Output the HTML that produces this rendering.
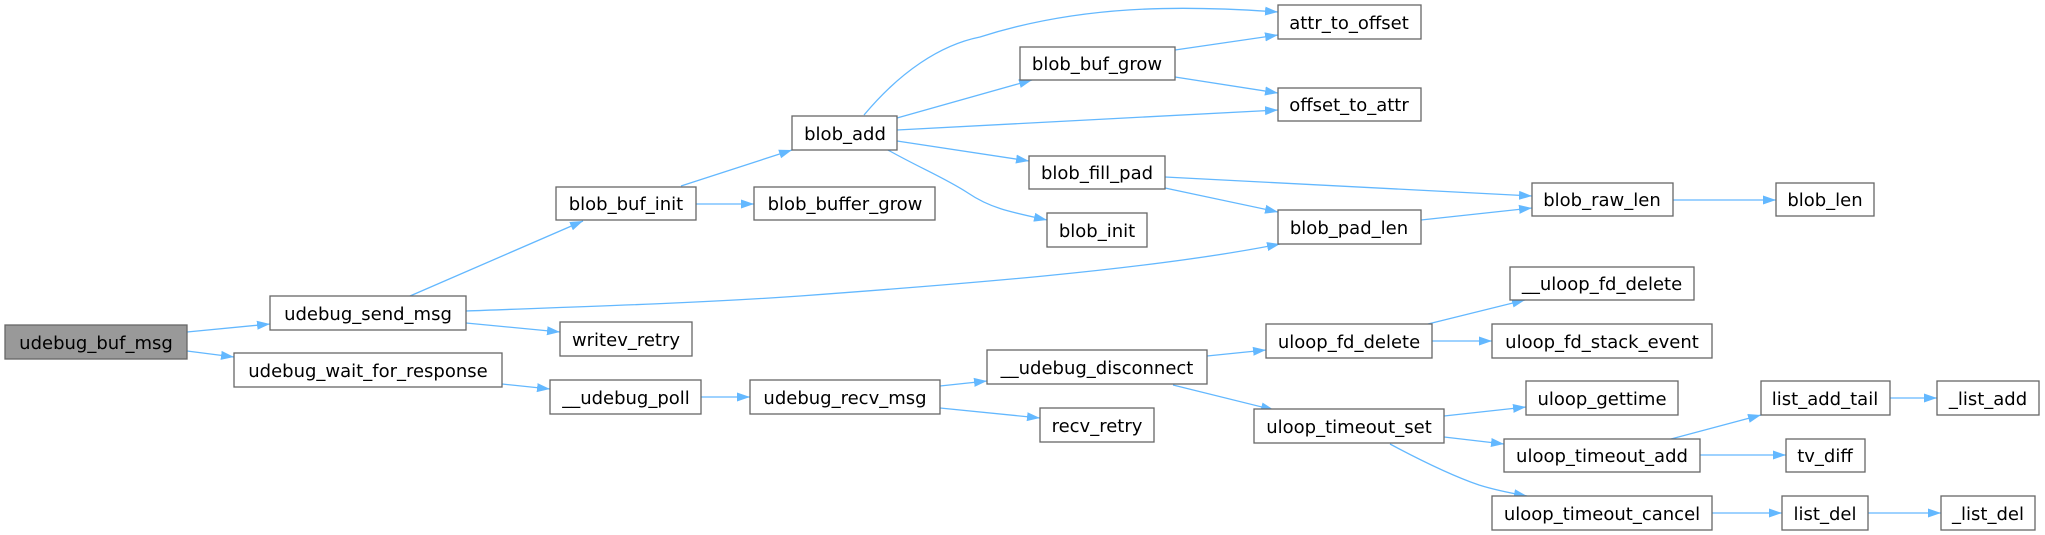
<!DOCTYPE html>
<html><head><meta charset="utf-8"><style>
html,body{margin:0;padding:0;background:#fff;}
svg{display:block;}
text{font-family:"DejaVu Sans","Liberation Sans",sans-serif;font-size:18px;fill:#000;}
.e{fill:none;stroke:#63b8ff;stroke-width:1.3;marker-end:url(#a);}
.n{fill:#fff;stroke:#666;stroke-width:1.3;}
</style></head><body>
<svg width="2045" height="535" viewBox="0 0 2045 535" xmlns="http://www.w3.org/2000/svg">
<defs><marker id="a" markerUnits="userSpaceOnUse" markerWidth="14" markerHeight="10" refX="13" refY="5" orient="auto"><path d="M0,0.5 L13,5 L0,9.5 Z" fill="#63b8ff"/></marker></defs>
<path class="e" d="M187,332 L270,324"/>
<path class="e" d="M187,351 L234,357"/>
<path class="e" d="M410,296 L583,221"/>
<path class="e" d="M466,311 C600,306 700,303 800,296 C950,285 1150,270 1280,244"/>
<path class="e" d="M466,323 L560,332"/>
<path class="e" d="M502,384 L550,389"/>
<path class="e" d="M681,186 L792,150"/>
<path class="e" d="M696,204 L754,204"/>
<path class="e" d="M864,115 C900,72 940,45 980,37 C1080,5 1180,5 1278,12"/>
<path class="e" d="M897,118 L1032,80"/>
<path class="e" d="M897,130 L1278,110"/>
<path class="e" d="M897,141 L1029,161"/>
<path class="e" d="M888,150 C920,168 945,178 968,193 C990,208 1010,212 1047,220"/>
<path class="e" d="M1175,50 L1278,35"/>
<path class="e" d="M1175,77 L1278,93"/>
<path class="e" d="M1165,177 L1532,196"/>
<path class="e" d="M1165,188 L1278,212"/>
<path class="e" d="M1421,220 L1532,208"/>
<path class="e" d="M1673,200 L1776,200"/>
<path class="e" d="M701,397 L750,397"/>
<path class="e" d="M940,386 L987,381"/>
<path class="e" d="M940,408 L1040,418"/>
<path class="e" d="M1207,356 L1266,350"/>
<path class="e" d="M1173,385 L1274,410"/>
<path class="e" d="M1428,324 L1525,300"/>
<path class="e" d="M1432,341 L1492,341"/>
<path class="e" d="M1444,416 L1526,407"/>
<path class="e" d="M1444,437 L1504,444"/>
<path class="e" d="M1390,444 C1420,460 1450,475 1479,485 C1495,490 1510,493 1527,496"/>
<path class="e" d="M1671,439 L1761,415"/>
<path class="e" d="M1700,455 L1786,455"/>
<path class="e" d="M1890,398 L1937,398"/>
<path class="e" d="M1712,513 L1782,513"/>
<path class="e" d="M1868,513 L1941,513"/>
<g>
<rect x="5" y="325" width="182" height="34" fill="#999" stroke="#666" stroke-width="1.3"/><text x="96" y="349" text-anchor="middle">udebug_buf_msg</text>
<rect class="n" x="270" y="296" width="196" height="34"/><text x="368" y="320" text-anchor="middle">udebug_send_msg</text>
<rect class="n" x="234" y="353" width="268" height="34"/><text x="368" y="377" text-anchor="middle">udebug_wait_for_response</text>
<rect class="n" x="556" y="187" width="140" height="33"/><text x="626" y="210" text-anchor="middle">blob_buf_init</text>
<rect class="n" x="560" y="322" width="132" height="34"/><text x="626" y="346" text-anchor="middle">writev_retry</text>
<rect class="n" x="550" y="380" width="151" height="34"/><text x="626" y="404" text-anchor="middle">__udebug_poll</text>
<rect class="n" x="792" y="116" width="105" height="34"/><text x="845" y="140" text-anchor="middle">blob_add</text>
<rect class="n" x="754" y="187" width="181" height="33"/><text x="845" y="210" text-anchor="middle">blob_buffer_grow</text>
<rect class="n" x="1020" y="47" width="155" height="33"/><text x="1097" y="70" text-anchor="middle">blob_buf_grow</text>
<rect class="n" x="1029" y="156" width="136" height="33"/><text x="1097" y="179" text-anchor="middle">blob_fill_pad</text>
<rect class="n" x="1047" y="213" width="100" height="34"/><text x="1097" y="237" text-anchor="middle">blob_init</text>
<rect class="n" x="1278" y="5" width="143" height="34"/><text x="1349" y="29" text-anchor="middle">attr_to_offset</text>
<rect class="n" x="1278" y="88" width="143" height="33"/><text x="1349" y="111" text-anchor="middle">offset_to_attr</text>
<rect class="n" x="1278" y="210" width="143" height="34"/><text x="1349" y="234" text-anchor="middle">blob_pad_len</text>
<rect class="n" x="1532" y="183" width="141" height="33"/><text x="1602" y="206" text-anchor="middle">blob_raw_len</text>
<rect class="n" x="1776" y="183" width="98" height="33"/><text x="1825" y="206" text-anchor="middle">blob_len</text>
<rect class="n" x="750" y="380" width="190" height="34"/><text x="845" y="404" text-anchor="middle">udebug_recv_msg</text>
<rect class="n" x="1040" y="408" width="114" height="34"/><text x="1097" y="432" text-anchor="middle">recv_retry</text>
<rect class="n" x="987" y="350" width="220" height="34"/><text x="1097" y="374" text-anchor="middle">__udebug_disconnect</text>
<rect class="n" x="1266" y="324" width="166" height="34"/><text x="1349" y="348" text-anchor="middle">uloop_fd_delete</text>
<rect class="n" x="1254" y="409" width="190" height="34"/><text x="1349" y="433" text-anchor="middle">uloop_timeout_set</text>
<rect class="n" x="1510" y="267" width="184" height="33"/><text x="1602" y="290" text-anchor="middle">__uloop_fd_delete</text>
<rect class="n" x="1492" y="324" width="220" height="34"/><text x="1602" y="348" text-anchor="middle">uloop_fd_stack_event</text>
<rect class="n" x="1526" y="381" width="152" height="34"/><text x="1602" y="405" text-anchor="middle">uloop_gettime</text>
<rect class="n" x="1504" y="439" width="196" height="33"/><text x="1602" y="462" text-anchor="middle">uloop_timeout_add</text>
<rect class="n" x="1492" y="496" width="220" height="34"/><text x="1602" y="520" text-anchor="middle">uloop_timeout_cancel</text>
<rect class="n" x="1761" y="381" width="129" height="34"/><text x="1825" y="405" text-anchor="middle">list_add_tail</text>
<rect class="n" x="1786" y="439" width="79" height="33"/><text x="1825" y="462" text-anchor="middle">tv_diff</text>
<rect class="n" x="1782" y="496" width="86" height="34"/><text x="1825" y="520" text-anchor="middle">list_del</text>
<rect class="n" x="1937" y="381" width="102" height="34"/><text x="1988" y="405" text-anchor="middle">_list_add</text>
<rect class="n" x="1941" y="496" width="94" height="34"/><text x="1988" y="520" text-anchor="middle">_list_del</text>
</g>
</svg>
</body></html>
